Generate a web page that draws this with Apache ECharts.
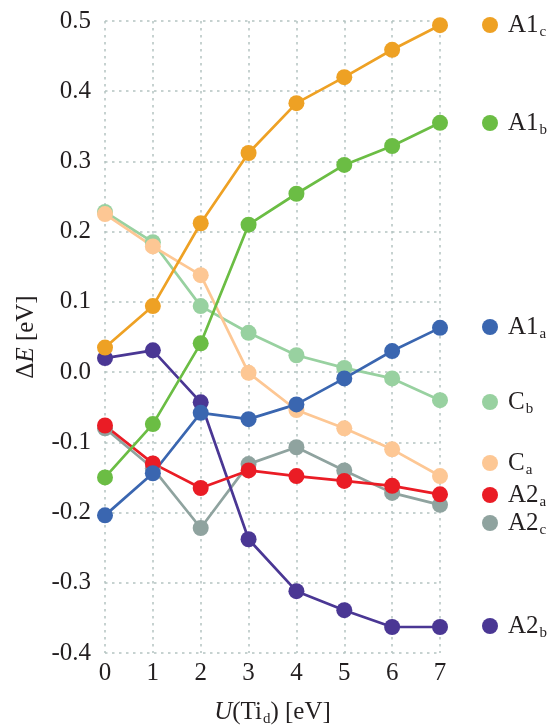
<!DOCTYPE html>
<html><head><meta charset="utf-8">
<script src="https://cdn.jsdelivr.net/npm/echarts@6/dist/echarts.min.js"></script>
<style>html,body{margin:0;padding:0;background:#fff}#c{width:555px;height:726px}</style>
</head><body><div id="c"></div>
<script>
var xValues = [0, 1, 2, 3, 4, 5, 6, 7];
var yTicks = [-0.4, 0.5, 0.1];
var A1c = [0.035, 0.094, 0.212, 0.312, 0.383, 0.420, 0.459, 0.494];
var A1b = [-0.150, -0.074, 0.041, 0.210, 0.254, 0.295, 0.322, 0.355];
var A1a = [-0.204, -0.144, -0.058, -0.067, -0.046, -0.009, 0.030, 0.063];
var Cb  = [0.228, 0.185, 0.094, 0.056, 0.024, 0.006, -0.009, -0.040];
var Ca  = [0.225, 0.179, 0.138, -0.001, -0.054, -0.080, -0.110, -0.148];
var A2a = [-0.076, -0.130, -0.165, -0.140, -0.148, -0.155, -0.162, -0.174];
var A2c = [-0.080, -0.137, -0.222, -0.131, -0.107, -0.140, -0.172, -0.189];
var A2b = [0.020, 0.031, -0.043, -0.238, -0.312, -0.339, -0.363, -0.363];

var seriesDefs = [
  {key:'A2c', base:'A2', sub:'c', data:A2c, color:'#8fa39f', legendY:523},
  {key:'A2b', base:'A2', sub:'b', data:A2b, color:'#4a3794', legendY:626},
  {key:'Cb',  base:'C',  sub:'b', data:Cb,  color:'#98d1a0', legendY:402},
  {key:'Ca',  base:'C',  sub:'a', data:Ca,  color:'#fdc794', legendY:463},
  {key:'A2a', base:'A2', sub:'a', data:A2a, color:'#ea1c25', legendY:495},
  {key:'A1b', base:'A1', sub:'b', data:A1b, color:'#6bbd44', legendY:123},
  {key:'A1c', base:'A1', sub:'c', data:A1c, color:'#eea124', legendY:25},
  {key:'A1a', base:'A1', sub:'a', data:A1a, color:'#3a66b0', legendY:327}
];

var FONT = '"Liberation Serif", "DejaVu Serif", serif';
var rich = {
  m: {fontSize: 25, fontFamily: FONT, color: '#231f20', lineHeight: 30},
  s: {fontSize: 15, fontFamily: FONT, color: '#231f20', padding: [15, 0, 0, 1], lineHeight: 15},
  i: {fontSize: 25, fontFamily: FONT, fontStyle: 'italic', color: '#231f20', lineHeight: 30}
};

var series = seriesDefs.map(function (d) {
  return {
    name: d.key,
    type: 'line',
    data: xValues.map(function (x, i) { return [x, d.data[i]]; }),
    symbol: 'circle',
    symbolSize: 16,
    lineStyle: {color: d.color, width: 2.7},
    itemStyle: {color: d.color},
    emphasis: {disabled: true},
    animation: false,
    z: 2
  };
});

var legends = seriesDefs.map(function (d) {
  return {
    data: [d.key],
    left: 482,
    top: d.legendY - 15,
    padding: 0,
    icon: 'circle',
    itemWidth: 16,
    itemHeight: 16,
    selectedMode: false,
    formatter: function () { return '{m|' + d.base + '}{s|' + d.sub + '}'; },
    textStyle: {rich: rich, padding: [0, 0, 0, 5]}
  };
});

var gridLine = {show: true, lineStyle: {color: '#b4c3c1', type: [2.5, 4.5], width: 1.5}};

var chart = echarts.init(document.getElementById('c'), null, {renderer: 'canvas'});
chart.setOption({
  backgroundColor: '#fff',
  animation: false,
  grid: {left: 105, right: 115, top: 21, bottom: 73, containLabel: false, outerBoundsMode: 'none'},
  legend: legends,
  xAxis: {
    type: 'value', min: 0, max: 7, interval: 1,
    axisLine: {show: false}, axisTick: {show: false},
    splitLine: gridLine,
    axisLabel: {fontSize: 25, fontFamily: FONT, color: '#231f20', margin: 8},
    name: '{i|U}{m|(Ti}{s|d}{m|) [eV]}',
    nameLocation: 'middle', nameGap: 44,
    nameTextStyle: {rich: rich}
  },
  yAxis: {
    type: 'value', min: yTicks[0], max: yTicks[1], interval: yTicks[2],
    axisLine: {show: false}, axisTick: {show: false},
    splitLine: gridLine,
    axisLabel: {fontSize: 25, fontFamily: FONT, color: '#231f20', margin: 14,
      formatter: function (v) { return Math.abs(v) < 1e-9 ? '0.0' : v.toFixed(1); }},
    name: '{m|Δ}{i|E}{m| [eV]}',
    nameLocation: 'middle', nameGap: 64, nameRotate: 90,
    nameTextStyle: {rich: rich}
  },
  series: series
});
</script></body></html>
